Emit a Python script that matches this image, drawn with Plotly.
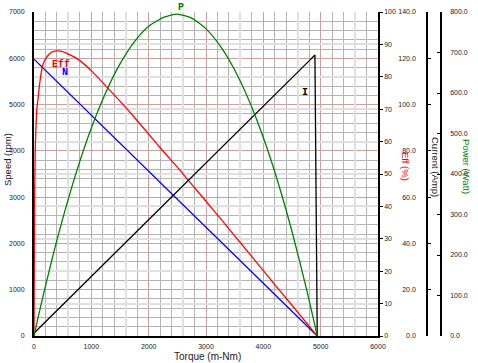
import plotly.graph_objects as go

# ---- data ----
torque = [0, 10, 20, 35, 50, 75, 100, 150, 200, 300, 400, 500, 750, 1000, 1250, 1500,
          1750, 2000, 2250, 2500, 2750, 3000, 3250, 3500, 3750, 4000, 4250, 4500,
          4750, 4900, 4940]
speed = [5980, 5968, 5956, 5938, 5919, 5889, 5859, 5798, 5738, 5617, 5496, 5375, 5072,
         4769, 4467, 4164, 3862, 3559, 3256, 2954, 2651, 2348, 2046, 1743, 1441, 1138,
         835, 533, 230, 48, 0]
eff = [0, 40, 56, 65, 70, 74, 78, 83.5, 85.5, 87.5, 88.0, 87.8, 85.6, 81.9, 77.2, 72.5,
       67.5, 62.3, 57.1, 52.1, 46.8, 41.6, 36.3, 30.9, 25.6, 20.2, 14.8, 9.5, 4.1, 0.9, 0]
current = [1.2, 1.4, 1.7, 2.1, 2.4, 3.0, 3.7, 4.9, 6.1, 8.6, 11.0, 13.5, 19.6, 25.7, 31.9,
           38.0, 44.1, 50.3, 56.4, 62.5, 68.7, 74.8, 80.9, 87.1, 93.2, 99.3, 105.5, 111.6,
           117.7, 121.4, 0]
power = [0, 6.4, 12.8, 22.4, 31.9, 47.7, 63.1, 93.6, 123.5, 181.4, 236.6, 289.3, 409.5,
         513.4, 600.8, 671.8, 726.4, 764.6, 786.3, 794.9, 784.8, 758.4, 715.7, 656.7,
         581.5, 489.9, 382.1, 258.0, 117.6, 25.5, 0]

x_ticks = [0, 1000, 2000, 3000, 4000, 5000, 6000]
speed_ticks = [0, 1000, 2000, 3000, 4000, 5000, 6000, 7000]

W, H = 478, 363
ML, MR, MT, MB = 34, 10, 12, 27
PW = W - ML - MR
PH = H - MT - MB

def px(xp):
    return (xp - ML) / PW

def py(yp):
    return (H - MB - yp) / PH

tick_font = dict(family="Liberation Sans, Arial", size=7, color="#222222")
lbl_font = "Liberation Mono, Courier New, monospace"

fig = go.Figure()
fig.add_trace(go.Scatter(x=[None], y=[None], xaxis="x2", yaxis="y", showlegend=False, hoverinfo="skip"))
fig.add_trace(go.Scatter(x=torque, y=speed, mode="lines", line=dict(color="#0000ff", width=1.3),
                         xaxis="x", yaxis="y", showlegend=False))
fig.add_trace(go.Scatter(x=torque, y=eff, mode="lines", line=dict(color="#ff0000", width=1.3, shape="spline", smoothing=0.6),
                         xaxis="x", yaxis="y2", showlegend=False))
fig.add_trace(go.Scatter(x=torque, y=current, mode="lines", line=dict(color="#000000", width=1.3),
                         xaxis="x", yaxis="y3", showlegend=False))
fig.add_trace(go.Scatter(x=torque, y=power, mode="lines", line=dict(color="#008000", width=1.3, shape="spline", smoothing=0.6),
                         xaxis="x", yaxis="y4", showlegend=False))

xdom_end = px(378)
major_grid = "#c8a0a0"
minor_grid = "#b4b4b4"
light_grid = "#e0e0e0"

fig.update_layout(
    width=W, height=H,
    margin=dict(l=ML, r=MR, t=MT, b=MB, autoexpand=False),
    paper_bgcolor="white", plot_bgcolor="white",
    xaxis=dict(domain=[0, xdom_end], range=[0, 6000], tickvals=x_ticks, automargin=False,
               showgrid=True, gridcolor=major_grid, gridwidth=1,
               minor=dict(dtick=200, showgrid=True, gridcolor=minor_grid, gridwidth=1),
               showline=True, linecolor="black", linewidth=2, ticks="", zeroline=False,
               tickfont=tick_font, ticklabelstandoff=3),
    xaxis2=dict(overlaying="x", range=[-600, 5400], dtick=1000, showgrid=True, automargin=False,
                gridcolor=light_grid, gridwidth=2, showticklabels=False, ticks="",
                zeroline=False, showline=False, anchor="y"),
    yaxis=dict(range=[0, 7000], tickvals=speed_ticks, showgrid=True, gridcolor=major_grid,
               automargin=False,
               minor=dict(dtick=200, showgrid=True, gridcolor=minor_grid, gridwidth=1),
               showline=True, linecolor="black", linewidth=2, ticks="", zeroline=False,
               tickfont=tick_font, ticklabelstandoff=6),
    yaxis2=dict(overlaying="y", side="right", anchor="x", range=[0, 100], dtick=10,
                automargin=False,
                showgrid=True, gridcolor=light_grid, gridwidth=2, zeroline=False,
                showline=True, linecolor="black", linewidth=1.5,
                ticks="outside", ticklen=3, tickcolor="black", tickfont=tick_font),
    yaxis3=dict(overlaying="y", anchor="free", position=px(427), side="left",
                automargin=False,
                range=[0, 140], dtick=20, tickformat=".1f", showgrid=False, zeroline=False,
                showline=True, linecolor="black", linewidth=1.5,
                ticks="inside", ticklen=3, tickcolor="black", tickfont=tick_font,
                ticklabelstandoff=9),
    yaxis4=dict(overlaying="y", anchor="free", position=px(441), side="right",
                automargin=False,
                range=[0, 800], dtick=100, tickformat=".1f", showgrid=False, zeroline=False,
                showline=True, linecolor="black", linewidth=1.5,
                ticks="inside", ticklen=3, tickcolor="black", tickfont=tick_font,
                ticklabelstandoff=7),
)

title_font = dict(family="Liberation Sans, Arial", size=9.5, color="#222222")

def note(text, x, y, font, xref="paper", yref="paper", angle=0):
    return dict(text=text, xref=xref, yref=yref, x=x, y=y, showarrow=False,
                xanchor="center", yanchor="middle", textangle=angle, font=font)

ann = [
    note("Torque (m-Nm)", px(207), py(356.5),
         dict(family="Liberation Sans, Arial", size=10, color="#222222")),
    note("Speed (rpm)", px(7), py(160), title_font, angle=-90),
    note("Eff (%)", px(406), py(166),
         dict(family="Liberation Sans, Arial", size=9.5, color="#ff0000"), angle=90),
    note("Current (Amp)", px(436), py(167), title_font, angle=90),
    note("Power (Watt)", px(467), py(166),
         dict(family="Liberation Sans, Arial", size=9.5, color="#008000"), angle=90),
    note("<b>Eff</b>", 470, 5870, dict(family=lbl_font, size=10, color="#ff0000"), xref="x", yref="y"),
    note("<b>N</b>", 532, 5690, dict(family=lbl_font, size=10, color="#0000ff"), xref="x", yref="y"),
    note("<b>P</b>", 2564, py(8), dict(family=lbl_font, size=10, color="#008000"), xref="x"),
    note("<b>I</b>", 4727, 5256, dict(family=lbl_font, size=10, color="#000000"), xref="x", yref="y"),
]
fig.update_layout(annotations=ann)

fig.write_html("out.html", config={"displayModeBar": False},
               post_script="document.body.style.margin='0';document.body.style.padding='0';")
